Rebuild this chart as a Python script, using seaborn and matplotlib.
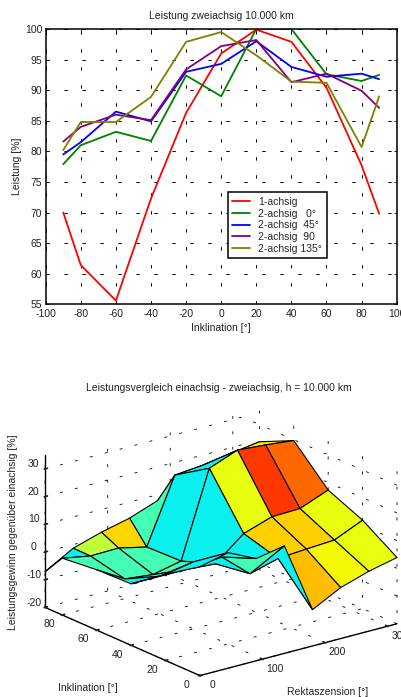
import matplotlib
matplotlib.use("Agg")
import matplotlib.pyplot as plt
from matplotlib.transforms import ScaledTranslation
import numpy as np
import pandas as pd
import seaborn as sns

sns.set_theme(style="white")
plt.rcParams["font.family"] = ["Liberation Sans", "DejaVu Sans"]
plt.rcParams["axes.unicode_minus"] = False

# top chart
inklination = [-90, -80, -60, -40, -20, 0, 20, 40, 60, 80, 90]
achsig_1 = [70, 61.4, 55.6, 72.3, 86.3, 96, 99.9, 97.9, 90.4, 77.7, 69.8]
achsig_2_0 = [77.9, 81, 83.2, 81.7, 92.4, 89, 100, 100, 92.6, 91.5, 92.5]
achsig_2_45 = [79.5, 81.5, 86.5, 84.9, 93, 94.3, 98, 93.8, 92.2, 92.7, 91.8]
achsig_2_90 = [81.6, 84, 86, 85.1, 93.4, 97.2, 98.2, 91.3, 92.7, 89.9, 87.1]
achsig_2_135 = [80.2, 84.8, 84.8, 88.9, 97.9, 99.5, 95.7, 91.4, 91.2, 80.7, 89]
series_names = ["1-achsig", "2-achsig   0°", "2-achsig  45°", "2-achsig  90", "2-achsig 135°"]
series_colors = ["#ff0000", "#008000", "#0000ff", "#800080", "#808000"]

# bottom chart: one row per inclination, one column per right ascension
rekt = [0, 45, 90, 135, 180, 225, 270, 315]
inkl = [0, 20, 40, 60, 80, 90]
gewinn = [
    [19.3, 21.7, 16.9, 18.8, -6.9, -1.6, 1.6, 3.9],
    [11.1, 12.9, 12.0, 3.3, 6.1, 6.8, 7.4, 11.9],
    [2.2, 2.2, 2.1, 1.4, 9.6, 13.0, 13.3, 17.3],
    [1.8, -4.2, -5.3, -3.1, 27.7, 31.6, 30.8, 29.7],
    [0.5, -1.4, -1.2, -3.5, 19.8, 20.7, 22.3, 23.8],
    [-7.1, -1.3, 1.8, 4.2, 7.9, 15.5, 15.3, 18.0],
]
# colour index of each cell, flat shading
zellen = [
    [0.36, 0.36, 0.43, 0.36, 0.71, 0.645, 0.63],
    [0.36, 0.36, 0.36, 0.36, 0.69, 0.69, 0.63],
    [0.36, 0.36, 0.43, 0.36, 0.63, 0.85, 0.80],
    [0.43, 0.43, 0.43, 0.36, 0.36, 0.36, 0.66],
    [0.36, 0.58, 0.68, 0.43, 0.36, 0.36, 0.66],
]

W, H = 402, 697
fig = plt.figure(figsize=(W / 100, H / 100), dpi=100)
fs = 7.5
dash = (0, (3.5, 15))


def nudge_labels(axis, dx, dy):
    """Axis3D resets tick transforms on every draw, so shift the labels (pixels) after that."""
    get_ticks = axis.get_major_ticks
    offset = ScaledTranslation(dx / 100, dy / 100, fig.dpi_scale_trans)

    def shifted(numticks=None):
        ticks = get_ticks(numticks)
        for tick in ticks:
            tick.label1.set_transform(axis.axes.transData + offset)
        return ticks

    axis.get_major_ticks = shifted


# line chart
ax = fig.add_axes([45.7 / W, 1 - 304.3 / H, 351 / W, 275.3 / H])
df = pd.DataFrame({"Inklination": inklination})
for name, vals in zip(series_names, [achsig_1, achsig_2_0, achsig_2_45, achsig_2_90, achsig_2_135]):
    df[name] = vals
long_df = df.melt("Inklination", var_name="Serie", value_name="Leistung")
sns.lineplot(data=long_df, x="Inklination", y="Leistung", hue="Serie", hue_order=series_names,
             palette=series_colors, linewidth=1.3, errorbar=None, ax=ax)
ax.set_xlim(-100, 100)
ax.set_ylim(55, 100)
ax.set_xticks(range(-100, 101, 20))
ax.set_yticks(range(55, 101, 5))
ax.grid(True, color="black", linewidth=0.7, linestyle=dash)
ax.tick_params(direction="in", length=2.5, width=0.7, labelsize=fs, pad=2.5, colors="#222222",
               top=True, right=True, left=True, bottom=True)
ax.tick_params(axis="x", pad=3.5)
for s in ax.spines.values():
    s.set_linewidth(1.1)
    s.set_color("black")
ax.set_xlabel("Inklination [°]", fontsize=fs, labelpad=3, color="#222222")
ax.set_ylabel("Leistung [%]", fontsize=fs, labelpad=2, color="#222222")
ax.set_title("Leistung zweiachsig 10.000 km", fontsize=fs, pad=7.5, color="#222222")
leg = ax.legend(loc="upper left", bbox_to_anchor=((227.7 - 45.7) / 351, 1 - (192.3 - 29) / 275.3),
                borderaxespad=0, fontsize=fs, fancybox=False, framealpha=1, edgecolor="black",
                handlelength=1.65, labelspacing=0.16, borderpad=0.45, handletextpad=0.85)
leg.get_frame().set_linewidth(1.1)

# surface chart
size = 379
ax3 = fig.add_axes([26.4 / W, 1 - 734 / H, size / W, size / H], projection="3d", proj_type="ortho")
ax3.patch.set_visible(False)
ax3.view_init(elev=19.9, azim=-127.7)
ax3.set_box_aspect((249, 253, 162))
X, Y = np.meshgrid(rekt, inkl)
Z = np.array(gewinn)
colors = plt.get_cmap("jet")(np.array(zellen))
ax3.plot_surface(X, Y, Z, facecolors=colors, rstride=1, cstride=1, shade=False,
                 edgecolor="black", linewidth=0.8, antialiased=True)
ax3.set_xlim(0, 315)
ax3.set_ylim(0, 90)
ax3.set_zlim(-20, 35)
ax3.set_xticks([0, 100, 200, 300])
ax3.set_yticks([0, 20, 40, 60, 80])
ax3.set_zticks([-20, -10, 0, 10, 20, 30])
ax3.tick_params(labelsize=fs, pad=-5, colors="#222222")
for axis in (ax3.xaxis, ax3.yaxis, ax3.zaxis):
    axis.set_pane_color((1, 1, 1, 0))
    axis.pane.set_edgecolor((1, 1, 1, 0))
    axis.line.set_color("black")
    axis.line.set_linewidth(1.0)
    axis._axinfo["grid"].update(color="black", linewidth=0.6, linestyle=dash)
    axis._axinfo["tick"].update(inward_factor=0.05, outward_factor=0.15)
nudge_labels(ax3.xaxis, 9, 0)
nudge_labels(ax3.yaxis, -9, 0)
nudge_labels(ax3.zaxis, -4, 9.5)

fig.text(219 / W, 1 - 388 / H, "Leistungsvergleich einachsig - zweiachsig, h = 10.000 km",
         fontsize=fs, ha="center", va="center", color="#222222")
fig.text(13.5 / W, 1 - 532 / H, "Leistungsgewinn gegenüber einachsig [%]", fontsize=fs, rotation=90,
         ha="center", va="center", color="#222222")
fig.text(88 / W, 1 - 688 / H, "Inklination [°]", fontsize=fs, ha="center", va="center", color="#222222")
fig.text(328 / W, 1 - 692 / H, "Rektaszension [°]", fontsize=fs, ha="center", va="center", color="#222222")

fig.savefig("out.png", dpi=100)
